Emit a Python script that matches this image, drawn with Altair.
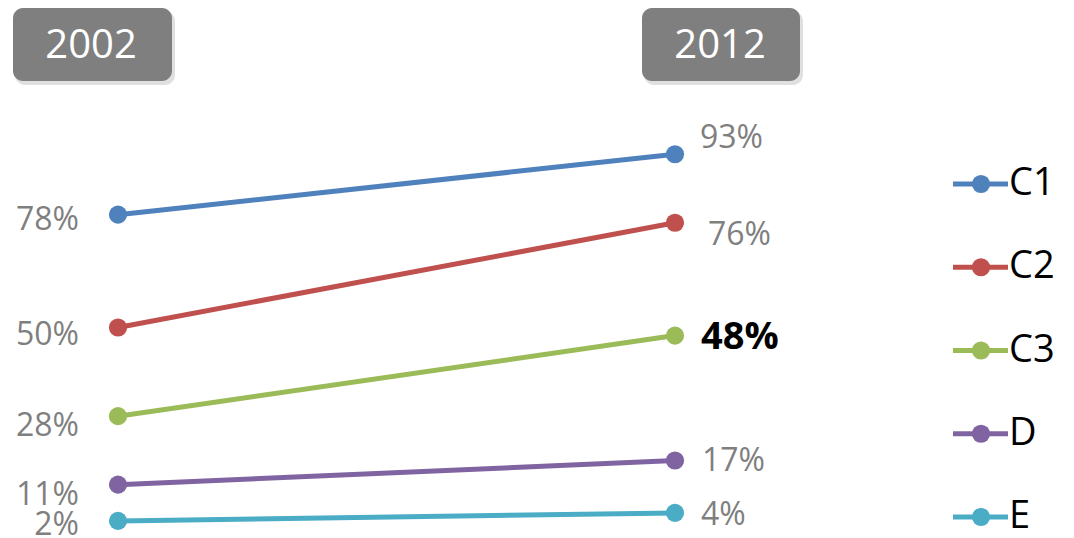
import altair as alt
import pandas as pd

series = ["C1", "C2", "C3", "D", "E"]
years = [2002, 2012]
v2002 = [78, 50, 28, 11, 2]
v2012 = [93, 76, 48, 17, 4]
colors = ["#4F81BD", "#C0504D", "#9BBB59", "#8064A2", "#4BACC6"]

# label nudges (style only)
left_dy = [5, 7, 10, 10, 4]
right_dy = [-16, 12, 2, 1, 2]
right_dx = [25, 33, 26, 27, 26]

rows = []
for s, a, b in zip(series, v2002, v2012):
    rows.append({"series": s, "year": years[0], "value": a, "label": f"{a}%"})
    rows.append({"series": s, "year": years[1], "value": b, "label": f"{b}%"})
df = pd.DataFrame(rows)

FONT = "Open Sans"
xs = alt.Scale(domain=years, range=[110, 667])
ys = alt.Scale(domain=[0, 100], range=[521, 118])
cs = alt.Scale(domain=series, range=colors)

X = alt.X("year:Q", scale=xs, axis=None)
Y = alt.Y("value:Q", scale=ys, axis=None)
C = alt.Color("series:N", scale=cs, legend=None)

base = alt.Chart(df)
lines = base.mark_line(strokeWidth=5).encode(x=X, y=Y, color=C, detail="series:N")
points = base.mark_point(filled=True, size=330, opacity=1).encode(x=X, y=Y, color=C)

layers = [lines, points]
for i, s in enumerate(series):
    left = alt.Chart(df[(df.series == s) & (df.year == years[0])]).mark_text(
        align="right", baseline="middle", dx=-39, dy=left_dy[i], fontSize=32,
        font=FONT, color="#7f7f7f"
    ).encode(x=X, y=Y, text="label:N")
    bold = s == "C3"
    right = alt.Chart(df[(df.series == s) & (df.year == years[1])]).mark_text(
        align="left", baseline="middle", dx=right_dx[i], dy=right_dy[i],
        fontSize=38 if bold else 32, fontWeight="bold" if bold else "normal",
        font=FONT, color="#000000" if bold else "#7f7f7f"
    ).encode(x=X, y=Y, text="label:N")
    layers += [left, right]

# header boxes
hdr = pd.DataFrame({"year": [str(y) for y in years]})
box_x = [(5, 164), (634, 792)]
txt_x = [83, 712]
for i, y in enumerate(years):
    d = alt.Chart(hdr[hdr.year == str(y)])
    shadow = d.mark_rect(cornerRadius=10, color="#000000", opacity=0.12).encode(
        x=alt.value(box_x[i][0] + 2), x2=alt.value(box_x[i][1] + 3),
        y=alt.value(3), y2=alt.value(77))
    box = d.mark_rect(cornerRadius=10, color="#7f7f7f").encode(
        x=alt.value(box_x[i][0]), x2=alt.value(box_x[i][1]),
        y=alt.value(0), y2=alt.value(73))
    txt = d.mark_text(fontSize=40, font=FONT, color="white", baseline="middle").encode(
        x=alt.value(txt_x[i]), y=alt.value(38), text="year:N")
    layers += [shadow, box, txt]

# manual legend
leg = pd.DataFrame({"series": series})
LY = alt.Y("series:N", scale=alt.Scale(type="point", domain=series, range=[176, 509], padding=0), axis=None)
lchart = alt.Chart(leg)
lrule = lchart.mark_rule(strokeWidth=5).encode(x=alt.value(945), x2=alt.value(1000), y=LY, color=C)
lpt = lchart.mark_point(filled=True, size=330, opacity=1).encode(x=alt.value(973), y=LY, color=C)
ltxt = lchart.mark_text(align="left", baseline="middle", fontSize=38, font=FONT, color="#000000").encode(
    x=alt.value(1001), y=LY, text="series:N")
layers += [lrule, lpt, ltxt]

chart = alt.layer(*layers).resolve_scale(y="independent", x="independent").properties(
    width=1058, height=530, autosize=alt.AutoSizeParams(type="none"), padding=0
).configure_view(stroke=None)

chart.save("out.html", embed_options={"renderer": "svg", "actions": False})
